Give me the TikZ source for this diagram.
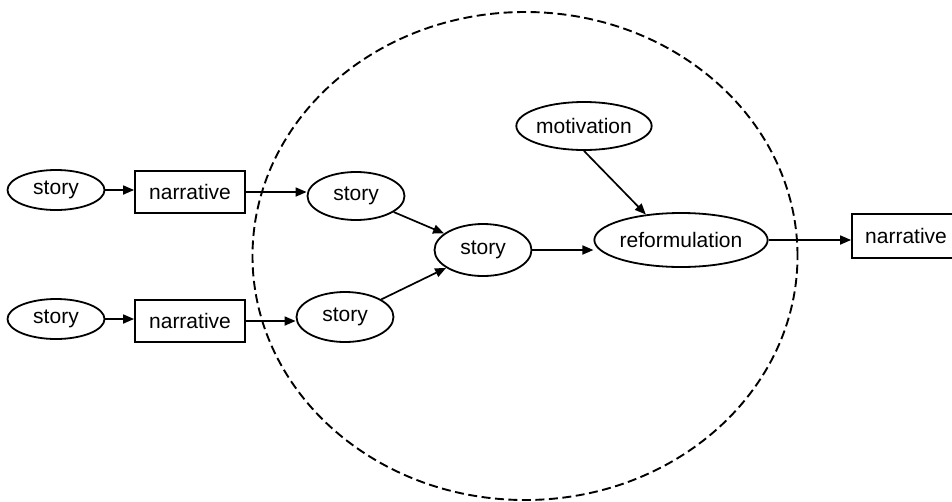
\documentclass[tikz,border=0pt]{standalone}
\usepackage{fontspec}
\setmainfont{Liberation Sans}
\usetikzlibrary{shapes.geometric,arrows.meta}
\begin{document}
\begin{tikzpicture}[x=1pt,y=-1pt,
  every node/.style={font=\fontsize{21}{24}\selectfont, inner sep=0pt},
  ell/.style={draw, ellipse, line width=1.8pt},
  boxn/.style={draw, rectangle, line width=1.8pt, minimum width=110pt, minimum height=42pt},
  arr/.style={line width=1.7pt, -{Triangle[length=11pt,width=9pt]}},
  region/.style={draw, line width=1.9pt, dash pattern=on 9pt off 4.5pt}]
\useasboundingbox (0,0) rectangle (952,501);
\clip (0,0) rectangle (952,501);
% dashed region
\node[region, ellipse, minimum width=545pt, minimum height=488pt] (zone) at (525,256) {};
% left chain
\node[ell, minimum width=97pt, minimum height=40pt] (s1) at (56,190) {story};
\node[boxn] (n1) at (190,192) {narrative};
\node[ell, minimum width=97pt, minimum height=40pt] (s2) at (56,319) {story};
\node[boxn] (n2) at (190,321) {narrative};
% inner
\node[ell, minimum width=97pt, minimum height=48pt] (s3) at (356,196) {story};
\node[ell, minimum width=97pt, minimum height=50pt] (s4) at (345,317) {story};
\node[ell, minimum width=97pt, minimum height=52pt] (s5) at (483,250) {story};
\node[ell, minimum width=128pt, minimum height=48pt] (mot) at (584,126) {motivation};
\node[ell, minimum width=173pt, minimum height=54pt] (ref) at (681,240) {reformulation};
\node[boxn, minimum width=108pt, minimum height=44pt] (n3) at (906,236) {narrative};
% connectors
\draw[arr] (s1.east) -- (n1.west |- s1.east);
\draw[arr] (s2.east) -- (n2.west |- s2.east);
\draw[arr] (n1.east) -- (s3.west |- n1.east);
\draw[arr] (n2.east) -- (s4.west |- n2.east);
\draw[arr] (s3) -- (s5);
\draw[arr] (s4) -- (s5);
\draw[arr] (s5.east) -- (ref.west |- s5.east);
\draw[arr] (mot.south) -- (ref.144);
\draw[arr] (ref.east) -- (n3.west |- ref.east);
\end{tikzpicture}
\end{document}
